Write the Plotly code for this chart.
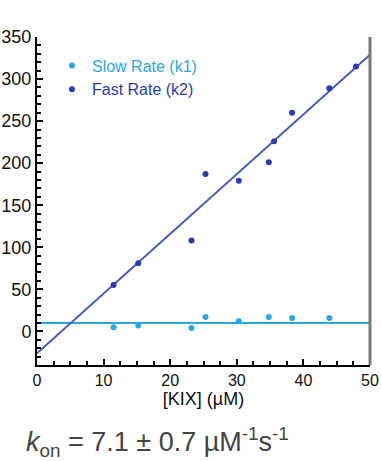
import plotly.graph_objects as go

# [KIX] concentrations (µM) and observed rates (s^-1)
kix_conc = [11.5, 15.2, 23.2, 25.3, 30.3, 34.8, 35.6, 38.3, 43.9, 47.9]
fast_rate = [55, 81, 108, 187, 179, 201, 226, 260, 289, 315]
slow_conc = [11.5, 15.2, 23.2, 25.3, 30.3, 34.8, 38.3, 43.9]
slow_rate = [5, 7, 4, 17, 12, 17, 16, 16]

# Fit parameters
fast_slope = 7.1        # k_on, µM^-1 s^-1
fast_intercept = -26.0
slow_level = 10.0
fit_x = [0, 50]

SLOW = "#2aa7e1"
FAST = "#2b3cab"
FAST_LINE = "#4759bd"

fig = go.Figure()

fig.add_trace(go.Scatter(
    x=fit_x, y=[slow_level for _ in fit_x], mode="lines",
    line=dict(color=SLOW, width=2), showlegend=False, hoverinfo="skip"))
fig.add_trace(go.Scatter(
    x=fit_x, y=[fast_intercept + fast_slope * v for v in fit_x], mode="lines",
    line=dict(color=FAST_LINE, width=2), showlegend=False, hoverinfo="skip"))

fig.add_trace(go.Scatter(
    x=slow_conc, y=slow_rate, mode="markers",
    marker=dict(color=SLOW, size=6, symbol="circle"),
    name=f'<span style="color:{SLOW}">Slow Rate (k1)</span>'))
fig.add_trace(go.Scatter(
    x=kix_conc, y=fast_rate, mode="markers",
    marker=dict(color=FAST, size=6, symbol="circle"),
    name=f'<span style="color:{FAST}">Fast Rate (k2)</span>'))

fig.add_shape(type="line", xref="paper", yref="paper", x0=1, x1=1, y0=0, y1=1,
              line=dict(color="#777777", width=3))

fig.add_annotation(
    xref="paper", yref="paper", x=-0.04, y=-0.235, xanchor="left", yanchor="middle",
    showarrow=False,
    text="<i>k</i><sub>on</sub> = 7.1 ± 0.7 µM<sup>-1</sup>s<sup>-1</sup>",
    font=dict(size=27, color="#444444", family="Liberation Sans, Arial, sans-serif"))

fig.update_xaxes(
    range=[0, 50], tickmode="linear", tick0=0, dtick=10, automargin=False,
    showline=True, linecolor="black", linewidth=2, showgrid=False, zeroline=False,
    ticks="inside", ticklen=6, tickcolor="black", tickwidth=2,
    minor=dict(ticks="inside", tickmode="linear", tick0=0, dtick=2.5,
               ticklen=4, tickwidth=1.5, tickcolor="black"),
    tickfont=dict(size=16, color="#111111"),
    title=dict(text="[KIX] (µM)", font=dict(size=18, color="#111111"), standoff=2))
fig.update_yaxes(
    range=[-40, 350], tickmode="linear", tick0=0, dtick=50, automargin=False,
    showline=True, linecolor="black", linewidth=2, showgrid=False, zeroline=False,
    ticks="inside", ticklen=6, tickcolor="black", tickwidth=2,
    minor=dict(ticks="inside", tickmode="linear", tick0=0, dtick=10,
               ticklen=4, tickwidth=1.5, tickcolor="black"),
    tickfont=dict(size=18, color="#111111"))

fig.update_layout(
    width=381, height=461,
    margin=dict(l=37, r=11, t=37, b=96),
    paper_bgcolor="white", plot_bgcolor="white",
    font=dict(family="Liberation Sans, Arial, sans-serif"),
    legend=dict(x=0.045, y=0.965, xanchor="left", yanchor="top",
                bgcolor="rgba(0,0,0,0)", font=dict(size=16),
                itemwidth=30, tracegroupgap=0),
    showlegend=True,
)

fig.write_html("out.html")
